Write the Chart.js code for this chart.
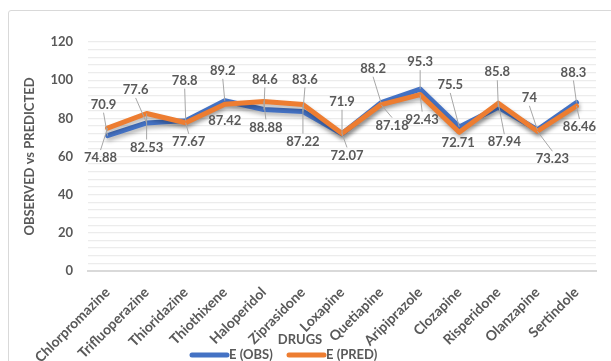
<!DOCTYPE html>
<html>
<head>
<meta charset="utf-8">
<script src="https://cdn.jsdelivr.net/npm/chart.js@4.4.1/dist/chart.umd.min.js"></script>
<style>
  html, body { margin: 0; padding: 0; background: #fff; overflow: hidden; }
  #frame { position: absolute; left: 8px; top: 10px; width: 660px; height: 420px; border: 1px solid #d9d9d9; border-radius: 3px; }
  #wrap { position: absolute; left: 0; top: 0; width: 611px; height: 361px; }
</style>
</head>
<body>
<div id="frame"></div>
<div id="wrap"><canvas id="drugChart"></canvas></div>
<script>
const drugs = ['Chlorpromazine', 'Trifluoperazine', 'Thioridazine', 'Thiothixene', 'Haloperidol', 'Ziprasidone',
  'Loxapine', 'Quetiapine', 'Aripiprazole', 'Clozapine', 'Risperidone', 'Olanzapine', 'Sertindole'];
const obsValues = [70.9, 77.6, 78.8, 89.2, 84.6, 83.6, 71.9, 88.2, 95.3, 75.5, 85.8, 74, 88.3];
const predValues = [74.88, 82.53, 77.67, 87.42, 88.88, 87.22, 72.07, 87.18, 92.43, 72.71, 87.94, 73.23, 86.46];
const yTickLabels = [0, 20, 40, 60, 80, 100, 120];

// where each value label sits relative to its point (px)
const obsLabelOffsets = [[-4, -31], [-11, -33], [-1, -40], [-2, -30], [1, -30], [2, -32], [0, -32],
  [-8, -34], [0, -27], [-9, -42], [-1, -35], [-8, -32], [-3, -30]];
const predLabelOffsets = [[-7, 30], [0, 34], [3, 19], [0, 17], [2, 26], [0, 37], [5, 22],
  [11, 21], [2, 25], [-1, 11], [6, 39], [15, 28], [3, 21]];

const TEXT = '#595959';
const FONT = 'Lato, "Open Sans", sans-serif';

// soft drop shadow under the two lines
const lineShadow = {
  id: 'lineShadow',
  beforeDatasetDraw(chart) {
    const ctx = chart.ctx;
    ctx.save();
    ctx.shadowColor = 'rgba(0,0,0,0.3)';
    ctx.shadowBlur = 4;
    ctx.shadowOffsetX = 1;
    ctx.shadowOffsetY = 3;
  },
  afterDatasetDraw(chart) {
    chart.ctx.restore();
  }
};

// value callouts with leader lines
const valueLabels = {
  id: 'valueLabels',
  afterDatasetsDraw(chart) {
    const ctx = chart.ctx;
    ctx.save();
    ctx.font = 'bold 13px ' + FONT;
    ctx.textAlign = 'center';
    ctx.textBaseline = 'middle';
    chart.data.datasets.forEach((ds, di) => {
      const meta = chart.getDatasetMeta(di);
      meta.data.forEach((pt, i) => {
        const [dx, dy] = ds.labelOffsets[i];
        const lx = pt.x + dx;
        const ly = pt.y + dy;
        if (Math.abs(dy) > 18) {
          ctx.strokeStyle = '#a6a6a6';
          ctx.lineWidth = 1;
          ctx.beginPath();
          ctx.moveTo(lx, ly + (dy < 0 ? 8 : -8));
          ctx.lineTo(pt.x, pt.y);
          ctx.stroke();
        }
        ctx.fillStyle = TEXT;
        ctx.fillText(String(ds.data[i]), lx, ly);
      });
    });
    ctx.restore();
  }
};

// axis title under the plot and the legend row
const bottomTexts = {
  id: 'bottomTexts',
  afterDraw(chart) {
    const ctx = chart.ctx;
    ctx.save();
    ctx.fillStyle = TEXT;
    ctx.font = 'bold 13px ' + FONT;
    ctx.textAlign = 'center';
    ctx.textBaseline = 'middle';
    ctx.fillText('DRUGS', 300, 340);
    ctx.textAlign = 'left';
    const legendOrder = [1, 0];
    let x = 192;
    legendOrder.forEach(di => {
      const ds = chart.data.datasets[di];
      ctx.strokeStyle = ds.borderColor;
      ctx.lineWidth = 5;
      ctx.lineCap = 'round';
      ctx.beginPath();
      ctx.moveTo(x, 355);
      ctx.lineTo(x + 35, 355);
      ctx.stroke();
      ctx.fillText(ds.label, x + 37, 355);
      x += 97;
    });
    ctx.restore();
  }
};

new Chart(document.getElementById('drugChart'), {
  type: 'line',
  data: {
    labels: drugs,
    datasets: [
      {
        label: 'E (PRED)',
        data: predValues,
        labelOffsets: predLabelOffsets,
        borderColor: '#ED7D31',
        order: 0
      },
      {
        label: 'E (OBS)',
        data: obsValues,
        labelOffsets: obsLabelOffsets,
        borderColor: '#4472C4',
        order: 1
      }
    ]
  },
  options: {
    responsive: true,
    maintainAspectRatio: false,
    animation: false,
    elements: {
      line: { borderWidth: 5, tension: 0, borderJoinStyle: 'round', borderCapStyle: 'round', fill: false },
      point: { radius: 0, hoverRadius: 0 }
    },
    layout: { padding: { left: 16, right: 15, top: 42, bottom: 0 } },
    plugins: {
      legend: { display: false },
      tooltip: { enabled: false }
    },
    scales: {
      x: {
        offset: true,
        grid: { display: false, drawTicks: false },
        border: { display: true, color: '#d9d9d9', width: 2 },
        ticks: {
          color: TEXT,
          font: { family: FONT, size: 14, weight: 'bold' },
          minRotation: 45,
          maxRotation: 45,
          padding: 13,
          autoSkip: false
        },
        afterFit(scale) { scale.height = 90; }
      },
      y: {
        min: 0,
        max: 120,
        grid: {
          drawTicks: false,
          color: ctx => ctx.tick.value === 0 ? 'rgba(0,0,0,0)' : '#ececec',
          lineWidth: 1.3
        },
        border: { display: false },
        ticks: {
          stepSize: 4,
          autoSkip: false,
          color: TEXT,
          padding: 15,
          font: { family: FONT, size: 13, weight: 'bold' },
          callback: v => yTickLabels.includes(v) ? String(v) : ''
        },
        title: {
          display: true,
          text: 'OBSERVED vs PREDICTED',
          color: TEXT,
          font: { family: FONT, size: 13, weight: 'bold' },
          padding: { top: 6, bottom: 0 }
        },
        afterFit(scale) { scale.width = 72; }
      }
    }
  },
  plugins: [lineShadow, valueLabels, bottomTexts]
});
</script>
</body>
</html>
